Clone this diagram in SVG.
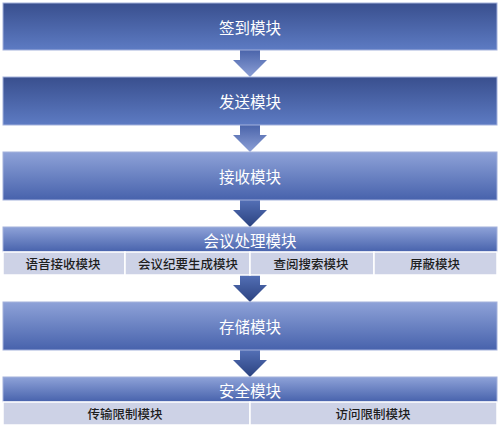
<svg xmlns="http://www.w3.org/2000/svg" width="500" height="430" viewBox="0 0 500 430">
<defs>
<linearGradient id="gDark" x1="0" y1="0" x2="0" y2="1">
<stop offset="0" stop-color="#394F8E"/>
<stop offset="1" stop-color="#5D7BC3"/>
</linearGradient>
<linearGradient id="gLight" x1="0" y1="0" x2="0" y2="1">
<stop offset="0" stop-color="#8EA2D8"/>
<stop offset="1" stop-color="#4762AC"/>
</linearGradient>
<linearGradient id="aLight" x1="0" y1="0" x2="0" y2="1">
<stop offset="0" stop-color="#4A64AA"/>
<stop offset="1" stop-color="#8C9FD6"/>
</linearGradient>
<linearGradient id="aDark" x1="0" y1="0" x2="0" y2="1">
<stop offset="0" stop-color="#5470B6"/>
<stop offset="1" stop-color="#2B4280"/>
</linearGradient>
</defs>
<style>
.box{stroke:#A3B1DC;stroke-width:1}
.sub{fill:#CDD2E6;stroke:#FFFFFF;stroke-width:1.5}
.t{font-family:"Noto Sans CJK SC","Noto Sans",sans-serif;fill:#FFFFFF;font-size:15.5px;text-anchor:middle;dominant-baseline:central}
.s{font-family:"Noto Sans CJK SC","Noto Sans",sans-serif;fill:#1E1E1E;font-size:12.5px;font-weight:500;text-anchor:middle;dominant-baseline:central}
</style>
<rect width="500" height="430" fill="#FFFFFF"/>
<g id="connectors">
<path d="M240,50 H260 V60 H267 L250,77 L233,60 H240 Z" fill="url(#aLight)"/>
<path d="M240,125 H260 V135 H267 L250,152 L233,135 H240 Z" fill="url(#aLight)"/>
<path d="M240,200 H260 V210 H267 L250,227 L233,210 H240 Z" fill="url(#aDark)"/>
<path d="M240,275 H260 V285 H267 L250,302 L233,285 H240 Z" fill="url(#aDark)"/>
<path d="M240,350 H260 V360 H267 L250,377 L233,360 H240 Z" fill="url(#aDark)"/>
</g>
<g id="signin">
<rect class="box" x="3" y="3" width="494" height="47" fill="url(#gDark)"/>
<text class="t" x="250" y="26.5">签到模块</text>
</g>
<g id="send">
<rect class="box" x="3" y="77" width="494" height="48" fill="url(#gDark)"/>
<text class="t" x="250" y="101">发送模块</text>
</g>
<g id="receive">
<rect class="box" x="3" y="152" width="494" height="48" fill="url(#gLight)"/>
<text class="t" x="250" y="176">接收模块</text>
</g>
<g id="meeting">
<rect class="box" x="3" y="227" width="494" height="25" fill="url(#gLight)"/>
<text class="t" x="250" y="239.5">会议处理模块</text>
<rect class="sub" x="3" y="252" width="122" height="23"/>
<rect class="sub" x="125" y="252" width="125" height="23"/>
<rect class="sub" x="250" y="252" width="124" height="23"/>
<rect class="sub" x="374" y="252" width="123" height="23"/>
<text class="s" x="63" y="263.5">语音接收模块</text>
<text class="s" x="188" y="263.5">会议纪要生成模块</text>
<text class="s" x="311" y="263.5">查阅搜索模块</text>
<text class="s" x="435" y="263.5">屏蔽模块</text>
</g>
<g id="storage">
<rect class="box" x="3" y="302" width="494" height="48" fill="url(#gLight)"/>
<text class="t" x="250" y="326">存储模块</text>
</g>
<g id="security">
<rect class="box" x="3" y="377" width="494" height="25" fill="url(#gLight)"/>
<text class="t" x="250" y="389.5">安全模块</text>
<rect class="sub" x="3" y="402" width="247" height="23"/>
<rect class="sub" x="250" y="402" width="247" height="23"/>
<text class="s" x="125" y="413.5">传输限制模块</text>
<text class="s" x="373" y="413.5">访问限制模块</text>
</g>
</svg>
